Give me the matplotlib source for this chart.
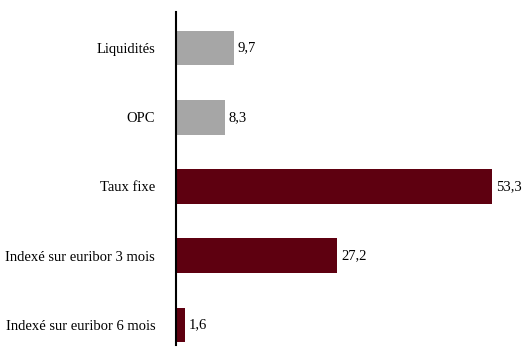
import matplotlib.pyplot as plt

categories = ["Liquidités", "OPC", "Taux fixe", "Indexé sur euribor 3 mois", "Indexé sur euribor 6 mois"]
values = [9.7, 8.3, 53.3, 27.2, 1.6]
colors = ["#a6a6a6", "#a6a6a6", "#5e0010", "#5e0010", "#5e0010"]

plt.rcParams["font.family"] = ["Liberation Serif", "DejaVu Serif"]

fig = plt.figure(figsize=(5.22, 3.53), dpi=100)
ax = fig.add_axes([176 / 522, 8 / 353, 346 / 522, 333 / 353])

pos = list(range(len(categories)))
ax.barh(pos, values, height=0.5, color=colors)
for p, v in zip(pos, values):
    ax.text(v + 0.6, p, f"{v:.1f}".replace(".", ","), va="center", ha="left", fontsize=10.5)

ax.set_xlim(0, 58.3)
ax.set_ylim(4.29, -0.52)
ax.set_yticks(pos)
ax.set_yticklabels(categories, fontsize=10.5)
ax.tick_params(axis="y", length=0, pad=15)
ax.set_xticks([])
for s in ["top", "right", "bottom"]:
    ax.spines[s].set_visible(False)
ax.spines["left"].set_linewidth(1.5)

fig.savefig("out.png", dpi=100)
